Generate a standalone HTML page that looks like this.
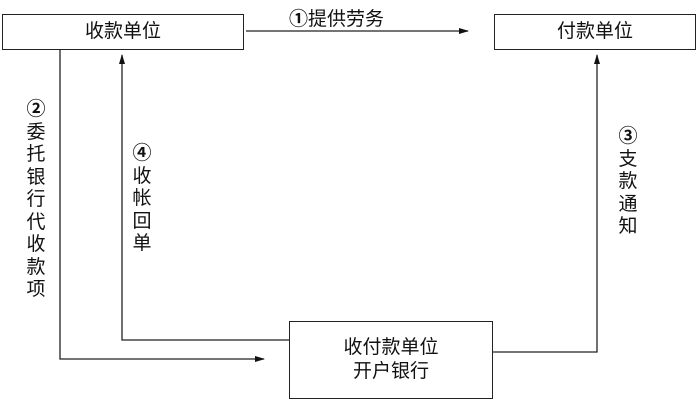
<!DOCTYPE html>
<html><head><meta charset="utf-8"><style>
body{margin:0;background:#fff;}
.wrap{position:relative;width:700px;height:400px;overflow:hidden;font-family:"Liberation Sans","Noto Sans CJK SC",sans-serif;color:#111;}
.box{position:absolute;border:1.3px solid #222;box-sizing:border-box;display:flex;align-items:center;justify-content:center;font-size:19px;text-align:center;line-height:24px;}
.v{position:absolute;font-size:19px;line-height:22.5px;width:22px;text-align:center;font-family:"Noto Sans CJK SC",sans-serif;}
b{font-weight:bold;}
</style></head><body><div class="wrap">
<svg width="700" height="400" style="position:absolute;left:0;top:0">
<defs><marker id="a" markerWidth="10" markerHeight="8" refX="9" refY="4" orient="auto" markerUnits="userSpaceOnUse"><path d="M0,1 L10,4 L0,7 Z" fill="#111"/></marker></defs>
<g stroke="#222" stroke-width="1.3" fill="none">
<line x1="246" y1="31" x2="468" y2="31" marker-end="url(#a)"/>
<polyline points="60,50 60,359 264,359" marker-end="url(#a)"/>
<polyline points="290,340 122,340 122,55" marker-end="url(#a)"/>
<polyline points="492,352 597,352 597,55" marker-end="url(#a)"/>
</g></svg>
<div class="box" style="left:2px;top:14px;width:242px;height:36px">收款单位</div>
<div class="box" style="left:494px;top:14px;width:202px;height:36px">付款单位</div>
<div class="box" style="left:289px;top:321px;width:204px;height:78px">收付款单位<br>开户银行</div>
<div style="position:absolute;left:289px;top:4px;font-size:19px;font-family:'Noto Sans CJK SC',sans-serif"><b>①</b>提供劳务</div>
<div class="v" style="left:25px;top:97px"><b>②</b>委托银行代收款项</div>
<div class="v" style="left:131px;top:141px"><b>④</b>收帐回单</div>
<div class="v" style="left:617px;top:124px"><b>③</b>支款通知</div>
</div></body></html>
